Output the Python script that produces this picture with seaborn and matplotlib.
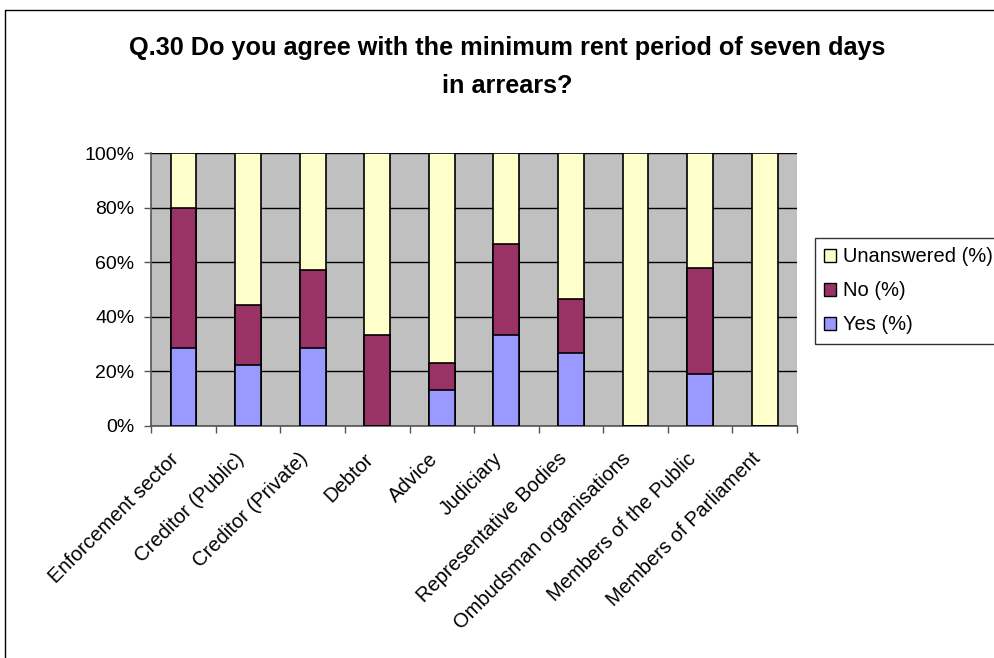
import matplotlib
matplotlib.use('Agg')
import pandas as pd
import seaborn as sns
from matplotlib import pyplot as plt
from matplotlib import transforms
from matplotlib.patches import Patch
from matplotlib.lines import Line2D
from matplotlib.ticker import FixedLocator, PercentFormatter

categories = [
    'Enforcement sector', 'Creditor (Public)', 'Creditor (Private)', 'Debtor',
    'Advice', 'Judiciary', 'Representative Bodies', 'Ombudsman organisations',
    'Members of the Public', 'Members of Parliament',
]
yes_pct = [28.6, 22.2, 28.6, 0, 13.0, 33.3, 26.7, 0, 19.0, 0]
no_pct = [51.4, 22.2, 28.6, 33.3, 10.0, 33.3, 20.0, 0, 39.0, 0]
unanswered_pct = [20.0, 55.6, 42.8, 66.7, 77.0, 33.4, 53.3, 100.0, 42.0, 100.0]

series = ['Unanswered (%)', 'No (%)', 'Yes (%)']
colors = {'Yes (%)': '#9999FF', 'No (%)': '#993366', 'Unanswered (%)': '#FFFFCC'}

df = pd.DataFrame({'category': categories, 'Yes (%)': yes_pct,
                   'No (%)': no_pct, 'Unanswered (%)': unanswered_pct})
# cumulative heights, drawn back to front
df['top_yes'] = df['Yes (%)']
df['top_no'] = df['top_yes'] + df['No (%)']
df['top_un'] = df['top_no'] + df['Unanswered (%)']

sns.set_style('white')
plt.rcParams['font.family'] = ['Liberation Sans', 'DejaVu Sans']
plt.rcParams['text.color'] = 'black'
plt.rcParams['xtick.color'] = 'black'
plt.rcParams['ytick.color'] = 'black'

fig = plt.figure(figsize=(9.95, 6.58), dpi=100)
ax = fig.add_axes([0.152, 0.353, 0.649, 0.414])
ax.set_facecolor('#C0C0C0')

for col, name in [('top_un', 'Unanswered (%)'), ('top_no', 'No (%)'), ('top_yes', 'Yes (%)')]:
    sns.barplot(data=df, x='category', y=col, color=colors[name], width=0.4,
                edgecolor='black', linewidth=1.2, saturation=1, ax=ax, zorder=3)

ax.set_ylim(0, 100)
ax.set_xlim(-0.5, len(categories) - 0.5)
ax.set_yticks([0, 20, 40, 60, 80, 100])
ax.yaxis.set_major_formatter(PercentFormatter(decimals=0))
ax.grid(axis='y', color='black', linewidth=1, zorder=1)
ax.set_axisbelow(True)
ax.set_xlabel('')
ax.set_ylabel('')

ax.set_xticks(range(len(categories)))
ax.set_xticklabels(categories, rotation=45, ha='right', rotation_mode='anchor', fontsize=14.5)
ax.tick_params(axis='x', length=0, pad=17)
shift = transforms.ScaledTranslation(-14 / 100, 0, fig.dpi_scale_trans)
for lbl in ax.get_xticklabels():
    lbl.set_transform(lbl.get_transform() + shift)
ax.xaxis.set_minor_locator(FixedLocator([i - 0.5 for i in range(len(categories) + 1)]))
ax.tick_params(axis='x', which='minor', length=5, width=1, color='#555555', direction='out')
ax.tick_params(axis='y', length=5, width=1, color='#555555', direction='out',
               labelsize=14, labelcolor='black', pad=7)
ax.yaxis.set_ticks_position('left')
ax.xaxis.set_ticks_position('bottom')

for side in ['left', 'bottom']:
    ax.spines[side].set_color('#555555')
    ax.spines[side].set_linewidth(1.2)
for side in ['top', 'right']:
    ax.spines[side].set_visible(False)

fig.text(0.51, 0.898, 'Q.30 Do you agree with the minimum rent period of seven days\nin arrears?',
         ha='center', va='center', fontsize=18.2, fontweight='bold', linespacing=1.75)

handles = [Patch(facecolor=colors[s], edgecolor='black', linewidth=1) for s in series]
leg = fig.legend(handles, series, loc='upper left', bbox_to_anchor=(0.819, 0.638),
                 fontsize=14.5, frameon=True, fancybox=False, edgecolor='black',
                 handlelength=0.6, handleheight=0.6, handletextpad=0.35,
                 labelspacing=0.75, borderpad=0.45, borderaxespad=0)
leg.get_frame().set_linewidth(1)

# chart-area border
fig.add_artist(Line2D([0.005, 1.0], [0.985, 0.985], color='black', linewidth=1))
fig.add_artist(Line2D([0.005, 0.005], [0.0, 0.985], color='black', linewidth=1))

fig.savefig('out.png', dpi=100)
